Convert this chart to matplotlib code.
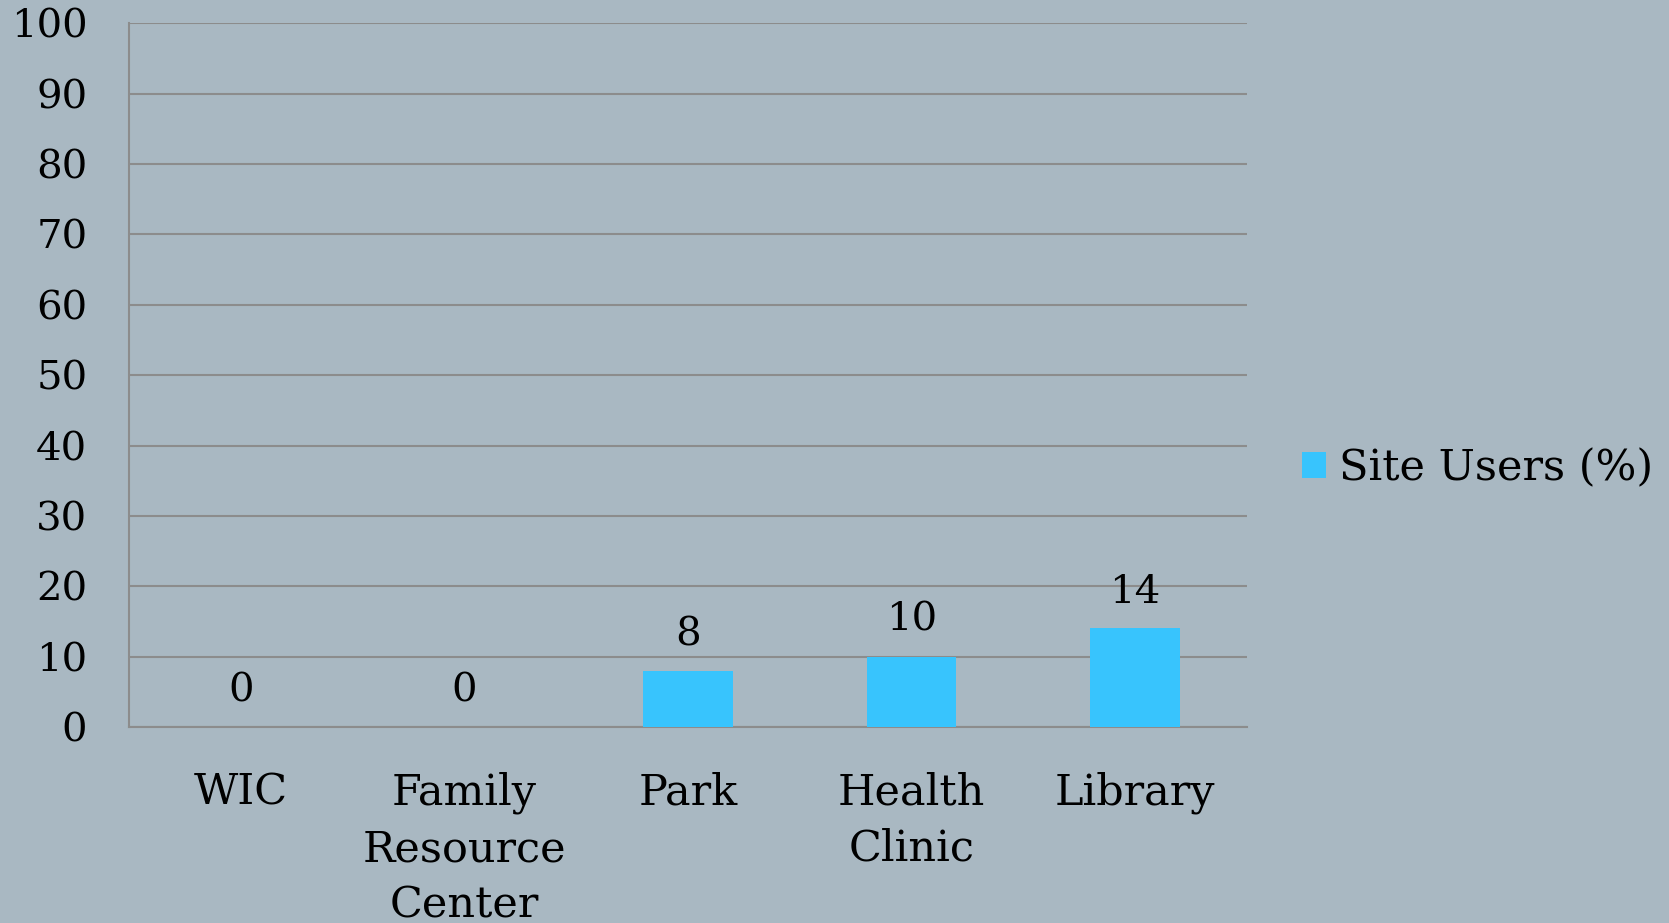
import matplotlib
matplotlib.use('Agg')
import matplotlib.pyplot as plt

categories = ['WIC', 'Family\nResource\nCenter', 'Park', 'Health\nClinic', 'Library']
site_users = [0, 0, 8, 10, 14]
y_ticks = [0, 10, 20, 30, 40, 50, 60, 70, 80, 90, 100]

bg = '#a9b8c2'
bar_color = '#38c4fd'
grid_color = '#8c8c8c'

plt.rcParams['font.family'] = ['DejaVu Serif']

fig = plt.figure(figsize=(16.69, 9.23), dpi=100, facecolor=bg)
ax = fig.add_axes([0.0773, 0.2124, 0.6697, 0.7622], facecolor=bg)

x = list(range(len(categories)))
bars = ax.bar(x, site_users, width=0.4, color=bar_color, label='Site Users (%)', zorder=3)

for xi, v in zip(x, site_users):
    ax.annotate(str(v), (xi, v), xytext=(0, 26), textcoords='offset points',
                ha='center', va='center', fontsize=29, color='black')

ax.set_xlim(-0.5, len(categories) - 0.5)
ax.set_ylim(0, 100)
ax.set_yticks(y_ticks)
ax.set_xticks(x)
ax.set_xticklabels(categories, fontsize=31, linespacing=1.43, va='top')
ax.tick_params(axis='y', labelsize=29, length=0, pad=30)
ax.tick_params(axis='x', length=0, pad=32)
ax.yaxis.grid(True, color=grid_color, linewidth=1.5, zorder=0)
ax.set_axisbelow(True)

for s in ['top', 'right']:
    ax.spines[s].set_visible(False)
for s in ['left', 'bottom']:
    ax.spines[s].set_color(grid_color)
    ax.spines[s].set_linewidth(1.5)

fig.legend(handles=[bars], labels=['Site Users (%)'], loc='center left',
           bbox_to_anchor=(0.757, 0.493), frameon=False, fontsize=31,
           handlelength=0.55, handleheight=0.55, handletextpad=0.3)

fig.savefig('out.png', dpi=100, facecolor=bg)
